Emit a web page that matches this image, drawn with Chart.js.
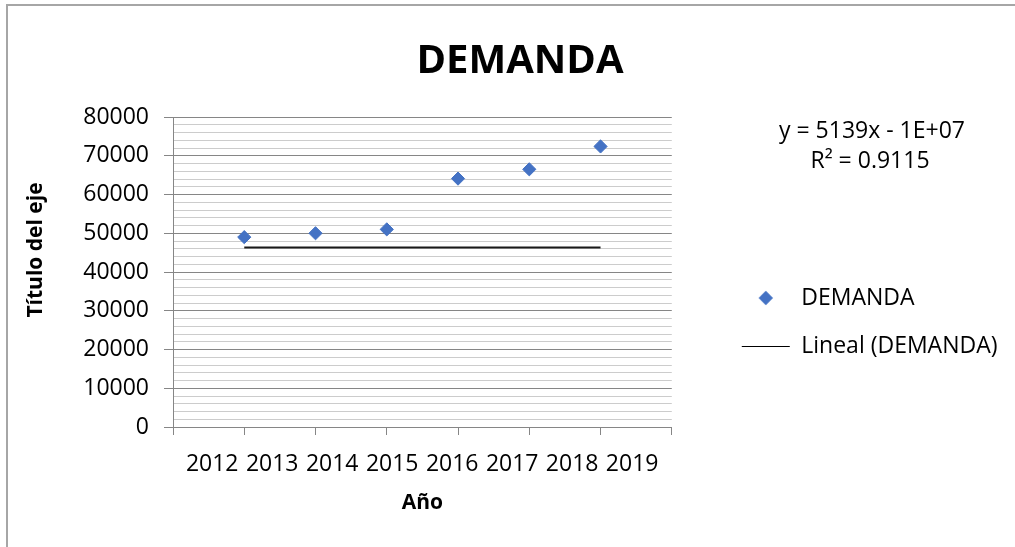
<!DOCTYPE html>
<html>
<head>
<meta charset="utf-8">
<script src="https://cdn.jsdelivr.net/npm/chart.js@4/dist/chart.umd.min.js"></script>
<style>
  html, body { margin: 0; padding: 0; background: #fff; }
  #wrap { position: relative; width: 1015px; height: 547px; overflow: hidden; }
  #frame { position: absolute; left: 6px; top: 4px; width: 1100px; height: 600px;
           border-left: 2px solid #a6a6a6; border-top: 2px solid #a6a6a6; }
  canvas { position: absolute; left: 0; top: 0; }
</style>
</head>
<body>
<div id="wrap">
  <div id="frame"></div>
  <canvas id="c" width="1015" height="547"></canvas>
</div>
<script>
// ---- data ----
const tickYears = ['2012', '2013', '2014', '2015', '2016', '2017', '2018', '2019'];
const demandaX = [1, 2, 3, 4, 5, 6];
const demanda = [49000, 50000, 51000, 64100, 66500, 72400];
const trendX = [1, 6];
const trendY = [46300, 46300];
const chartTitle = 'DEMANDA';
const seriesName = 'DEMANDA';
const trendName = 'Lineal (DEMANDA)';
const xTitle = 'Año';
const yTitle = 'Título del eje';
const equationLines = ['y = 5139x - 1E+07', 'R² = 0.9115'];
const yMin = 0, yMax = 80000, yMinorStep = 2000, yMajorStep = 10000;
const xMin = 0, xMax = 7;

// ---- styling ----
const FONT = "'Open Sans', 'DejaVu Sans', sans-serif";
const BLUE = '#4472C4';
const MAJOR = '#868686';
const MINOR = '#cccccc';
const LABEL_START = 0.55, LABEL_STEP = 0.842;

const diamond = document.createElement('canvas');
diamond.width = 16; diamond.height = 16;
(function () {
  const d = diamond.getContext('2d');
  d.fillStyle = BLUE;
  d.beginPath();
  d.moveTo(8, 0.8); d.lineTo(15.2, 8); d.lineTo(8, 15.2); d.lineTo(0.8, 8); d.closePath();
  d.fill();
})();

const textPlugin = {
  id: 'extraTexts',
  afterDraw(chart) {
    const c = chart.ctx;
    c.save();
    c.fillStyle = '#000';
    c.textAlign = 'center';
    c.textBaseline = 'middle';
    c.font = "bold 21px " + FONT;
    c.translate(36.5, 250);
    c.rotate(-Math.PI / 2);
    c.fillText(yTitle, 0, 0);
    c.restore();
    c.save();
    c.fillStyle = '#000';
    c.textAlign = 'center';
    c.textBaseline = 'middle';
    c.font = "23px " + FONT;
    c.fillText(equationLines[0], 872, 131.5);
    c.fillText(equationLines[1], 870, 161.5);
    c.restore();
  }
};

new Chart(document.getElementById('c'), {
  type: 'scatter',
  data: {
    datasets: [
      {
        label: seriesName,
        data: demandaX.map((x, i) => ({ x, y: demanda[i] })),
        pointStyle: 'rectRot',
        pointRadius: 6.6,
        pointHoverRadius: 6.6,
        backgroundColor: BLUE,
        borderColor: BLUE,
        borderWidth: 1
      },
      {
        label: trendName,
        data: trendX.map((x, i) => ({ x, y: trendY[i] })),
        showLine: true,
        pointRadius: 0,
        borderColor: '#1a1a1a',
        backgroundColor: '#1a1a1a',
        borderWidth: 2,
        pointStyle: 'line'
      }
    ]
  },
  options: {
    responsive: false,
    animation: false,
    devicePixelRatio: 1,
    layout: { padding: { left: 32.5, right: 7.5, top: 0, bottom: 0 } },
    plugins: {
      tooltip: { enabled: false },
      title: {
        display: true,
        text: chartTitle,
        color: '#000',
        font: { family: FONT, size: 40, weight: 'bold' },
        padding: { top: 38, bottom: 31 }
      },
      legend: {
        position: 'right',
        fullSize: false,
        align: 'center',
        maxWidth: 320,
        title: { display: true, text: '', font: { size: 12 }, padding: { top: 86.1, bottom: 0 } },
        labels: {
          usePointStyle: true,
          pointStyleWidth: 48,
          padding: 25.5,
          color: '#000',
          font: { family: FONT, size: 23 },
          generateLabels(chart) {
            const items = Chart.defaults.plugins.legend.labels.generateLabels(chart);
            items[0].pointStyle = diamond;
            items[1].pointStyle = 'line';
            items[1].lineWidth = 1;
            items[1].strokeStyle = '#000';
            return items;
          }
        }
      }
    },
    scales: {
      x: {
        type: 'linear',
        min: xMin,
        max: xMax,
        afterBuildTicks(scale) {
          const t = [];
          for (let v = xMin; v <= xMax; v++) t.push({ value: v, lbl: '' });
          tickYears.forEach((y, i) => t.push({ value: LABEL_START + i * LABEL_STEP, lbl: y }));
          t.sort((a, b) => a.value - b.value);
          scale.ticks = t;
        },
        afterFit(scale) { scale.height = 120; },
        ticks: {
          autoSkip: false,
          maxRotation: 0,
          minRotation: 0,
          padding: 15.6,
          color: '#000',
          font: { family: FONT, size: 23 },
          callback(value, index, ticks) { return ticks[index].lbl; }
        },
        grid: {
          drawOnChartArea: false,
          drawTicks: true,
          tickLength: 8,
          tickWidth: 1,
          tickColor: (ctx) => (ctx.tick && ctx.tick.lbl) ? 'rgba(0,0,0,0)' : MAJOR
        },
        border: { display: true, color: MAJOR, width: 1 },
        title: {
          display: true,
          text: xTitle,
          color: '#000',
          font: { family: FONT, size: 21, weight: 'bold' },
          padding: { top: 0, bottom: 31.4 }
        }
      },
      y: {
        type: 'linear',
        min: yMin,
        max: yMax,
        afterBuildTicks(scale) {
          const t = [];
          for (let v = yMin; v <= yMax; v += yMinorStep) t.push({ value: v });
          scale.ticks = t;
        },
        afterFit(scale) { scale.width = 140.5; },
        ticks: {
          autoSkip: false,
          padding: 15,
          color: '#000',
          font: { family: FONT, size: 23 },
          callback(value) { return value % yMajorStep === 0 ? String(value) : ''; }
        },
        grid: {
          color: (ctx) => (ctx.tick && ctx.tick.value % yMajorStep === 0) ? MAJOR : MINOR,
          lineWidth: 1,
          tickLength: 9,
          tickColor: (ctx) => (ctx.tick && ctx.tick.value % yMajorStep === 0) ? MAJOR : 'rgba(0,0,0,0)'
        },
        border: { display: true, color: MAJOR, width: 1 }
      },
      gap: {
        type: 'linear',
        position: 'right',
        display: true,
        ticks: { display: false },
        grid: { display: false, drawTicks: false },
        border: { display: false },
        afterFit(scale) { scale.width = 44.5; }
      }
    }
  },
  plugins: [textPlugin]
});
</script>
</body>
</html>
